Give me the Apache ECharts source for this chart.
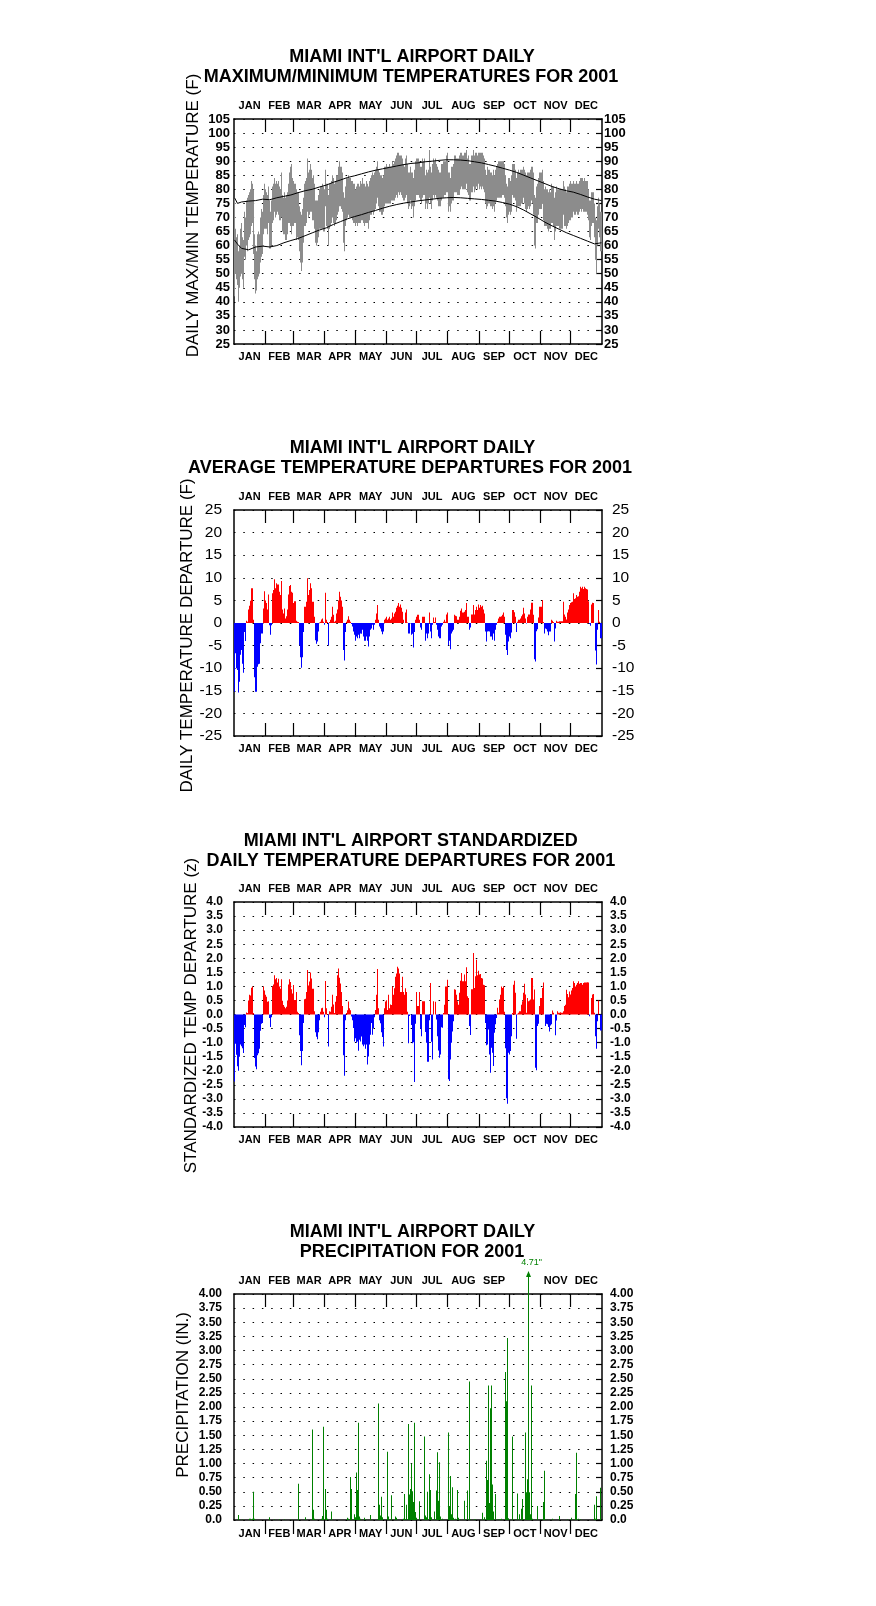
<!DOCTYPE html>
<html><head><meta charset="utf-8">
<script src="https://cdn.jsdelivr.net/npm/echarts@6/dist/echarts.min.js"></script>
<style>html,body{margin:0;padding:0;background:#fff}#c{width:876px;height:1606px}</style>
</head><body><div id="c"></div>
<script>
// ---------------- DATA ----------------
const monthNames = ['JAN','FEB','MAR','APR','MAY','JUN','JUL','AUG','SEP','OCT','NOV','DEC'];
const monthStarts = [31,59,90,120,151,181,212,243,273,304,334];
const monthMids = [15.5,45,74.5,105,135.5,166,196.5,227.5,258,288.5,319,349.5];

// Daily maximum temperature (F), Jan 1 .. Dec 31
const maxT = [
77,66,63,64,58,60,66,68,63,62,72,70,76,77,78,79,80,83,82,80,64,60,58,64,65,64,70,73,72,78,82,
80,79,78,81,76,72,76,81,82,84,82,83,82,83,81,80,86,78,77,79,77,78,79,82,86,88,89,84,
83,82,80,79,79,74,72,71,73,77,82,83,84,91,86,87,89,87,84,85,82,76,76,76,78,80,81,81,82,81,80,
87,82,82,78,82,82,83,85,84,82,83,85,85,88,90,88,88,86,79,77,81,84,84,85,84,84,83,83,82,82,
80,81,82,82,81,83,82,84,82,82,81,83,82,81,83,84,85,86,85,86,87,88,90,87,86,85,85,84,85,88,88,
89,88,88,89,88,88,90,89,90,91,92,93,93,92,92,92,91,89,88,91,92,89,86,86,88,86,86,84,87,90,
91,91,90,88,88,91,90,91,85,87,86,87,94,88,86,89,91,90,91,89,88,87,86,86,89,89,90,90,90,92,93,
86,86,84,88,88,89,92,92,91,91,91,92,93,93,92,92,93,93,94,91,92,89,89,92,92,94,92,93,93,92,93,
93,93,93,93,92,91,87,85,88,87,87,86,86,85,87,85,87,88,89,90,90,90,90,90,90,89,85,82,81,84,
84,83,85,89,89,89,87,84,86,87,86,87,87,87,88,87,86,85,86,86,86,87,88,88,86,78,77,81,82,84,86,
86,87,83,80,81,80,80,79,80,79,82,81,81,77,79,81,80,80,80,80,80,80,83,81,80,79,81,81,82,83,
82,82,83,82,82,83,82,82,83,84,84,84,83,84,83,83,83,80,76,76,79,79,79,75,70,69,74,77,75,72,72
];
// Daily minimum temperature (F)
const minT = [
42,50,48,46,40,45,49,50,48,45,56,55,60,58,62,63,64,67,68,57,48,43,44,48,49,50,54,56,57,64,66,
66,66,64,68,59,59,60,68,69,72,70,71,72,71,69,69,70,65,64,64,62,62,64,68,68,67,64,67,
67,68,62,63,62,58,54,51,54,61,67,67,68,72,70,71,72,72,69,69,66,61,60,61,63,66,66,66,66,65,65,
74,67,66,60,66,67,68,70,68,67,68,69,71,72,74,74,73,72,61,58,67,69,70,71,70,70,70,69,68,68,
67,68,67,68,68,68,69,69,68,67,68,68,68,66,69,71,71,72,71,72,73,75,77,74,72,72,71,71,72,74,75,
75,75,75,75,75,76,76,76,76,77,78,77,79,78,79,78,77,76,76,77,78,75,73,74,76,73,74,70,74,76,
78,78,77,76,75,77,78,78,73,75,73,75,77,75,73,76,78,77,78,77,76,74,74,74,76,77,77,78,78,79,79,
72,74,72,75,76,76,79,79,79,78,78,78,80,81,80,80,80,80,82,79,78,76,76,79,79,81,79,80,81,80,82,
80,81,80,81,80,79,75,73,74,75,75,74,74,73,74,72,75,76,77,77,77,77,77,78,78,77,74,70,68,71,
72,71,72,78,77,77,76,72,74,74,74,74,75,75,77,75,73,72,73,74,73,74,76,75,71,60,59,68,68,71,73,
73,75,69,67,67,67,66,65,66,66,68,68,67,62,65,67,67,67,66,66,66,66,71,67,67,66,67,68,69,69,
70,70,72,71,71,72,71,71,72,73,72,73,72,72,72,72,71,69,63,62,67,68,68,63,55,50,60,66,63,58,58
];
// Normal max / min temperature lines (read at these days of year)
const normDays = [0,3,7,14,21,28,35,42,49,56,63,70,77,84,91,98,105,112,119,126,133,140,147,154,161,168,175,182,189,196,203,210,217,224,231,238,245,252,259,266,273,280,287,294,301,308,315,322,329,336,343,350,357,364];
const normMax = [77,75,75.5,75.8,76,76.5,76.3,77,77.5,78,78.8,79.5,80,80.8,81.5,82.5,83.3,84.2,84.8,85.5,86.2,86.8,87.3,87.8,88.3,88.8,89.2,89.4,89.8,90,90.3,90.5,90.5,90.4,90.2,89.8,89.4,88.8,88.2,87.5,86.8,86,85,84,83,82,81,80.2,79.5,79,78.2,77.3,76.5,76];
const normMin = [62,60.5,59,58.5,59.5,59.8,59.5,60,61,61.8,62.5,63.5,64.5,65.5,66.3,67.5,68.5,69.5,70.3,71,71.8,72.5,73.3,74,74.6,75.1,75.5,75.9,76.2,76.5,76.8,77,77.1,77,76.8,76.6,76.4,76.1,75.8,75.3,74.7,73.8,72.6,71.2,69.8,68.3,67,65.8,64.6,63.6,62.6,61.6,60.6,61];

// Daily average temperature departure (F)
const depF = [
-15.2,-6.7,-10,-10.4,-15.4,-13,-7,-6,-9,-11,-2,-4,0.5,0.3,3,3.8,4.9,7.7,7.7,0.7,-12,-15.2,-15.2,-9.7,-9.1,-9,-4.5,-2.3,-2.3,3.2,7,
5,4.4,3,6.3,-0.5,-2.6,-0.5,6.6,7.3,9.7,7.7,8.8,8.5,8.5,6.9,6.2,9.3,3,2.1,3.2,1,1.5,3,6.3,8.2,8.4,6.9,6.7,
4.4,4.8,0.5,0.3,0.2,-4.9,-7.6,-9.9,-7.6,-2,3.6,3.6,4.7,9.9,6.2,7.3,8.8,7.7,4.7,4.7,1.4,-3.8,-4.6,-4.1,-1.9,0.1,0.3,0.8,1,0.3,-0.4,
6.7,0.7,0.2,-5,0.2,0.7,1.4,3.6,1.8,0.3,0.5,2.1,3,5,6.9,5.8,5,3.6,-6,-8.3,-2,0.3,0.7,1.5,0.7,0.3,-0.2,-0.8,-1.9,-2.6,
-3.9,-3,-3.4,-2.6,-3.4,-2.3,-2.4,-1.5,-3,-3.9,-3.9,-3,-3.9,-5.2,-3,-1.5,-1.2,-0.4,-1.5,-0.4,0.7,2.1,4,0.7,-0.8,-1.2,-1.9,-2.5,-1.9,0.7,1,
1.4,0.7,1,1.4,0.7,1,2.3,1.4,2.1,2.5,3.4,3.8,4.4,3.6,4.1,3.4,2.5,0.7,0,2.3,3,0.1,-2.3,-2.3,0,-2.6,-2.4,-5.4,-2,0.7,
1.4,1.8,0.7,-1,-1.5,1.4,1.4,1.4,-3.9,-2.3,-3.4,-2.3,2.3,-1.9,-3.4,-0.4,1.2,0.2,1.2,-0.4,-1.5,-3,-3.4,-3.4,-0.8,-0.4,0.3,0.7,0.3,1.9,2.3,
-4.9,-3.9,-5.8,-2.3,-1.9,-1.5,1.8,1.6,1.5,0.7,0.7,1.4,2.7,3.2,2.3,2.3,2.5,2.9,4.4,1.4,1.4,-1.5,-1,1.9,1.9,4,1.9,2.9,3.6,2.9,4.1,
3.4,4,3.6,3.8,3,2.1,-1.9,-4.1,-1.9,-1.8,-1.9,-3,-3,-3.7,-2.3,-3.9,-1.5,-0.4,0.3,1,1.4,1.4,1.5,1.8,2.3,1.4,-2.6,-6,-7.1,-4.1,
-3,-3.4,-2.1,2.9,2.9,2.4,1.4,-2,0.3,0.7,0.7,1,1.5,1.9,3.4,2.1,1,-0.1,1.4,1.9,1.9,3,4.5,4.5,1.8,-8,-8.5,-1.8,-1.4,1.2,3.6,
3.6,5.1,0.2,-2.3,-1.2,-1.4,-1.9,-2.7,-1.9,-1.9,0.7,0.5,0.2,-4.1,-1.2,0.5,0.3,0.3,0.4,0.4,0.4,0.4,4.7,1.9,1.4,0.8,2.3,3,4,4.4,
4.6,4.7,6.6,5.3,5.5,6.2,5.8,5.9,6.9,8,7.7,8,7.5,8,7.7,7.5,7.4,4.8,-0.2,-0.6,4.1,4.5,4.4,0,-6.1,-9.2,-1.5,2.9,0.3,-3.4,-3.4
];
// Standardized daily temperature departure (z)
const depZ = [
-2.38,-1.04,-1.43,-1.84,-2,-1.5,-1.07,-1.13,-1.2,-1.37,-0.37,-0.45,0.07,0.05,0.5,0.7,0.68,0.95,1,0.05,-1.55,-1.85,-1.95,-1.45,-1.38,-1.22,-0.58,-0.33,-0.3,1,0.85,
0.7,0.63,0.45,0.47,-0.12,-0.44,-0.1,1,1.07,1.4,1.25,1.3,1.14,1.27,1,0.92,1.25,0.49,0.34,0.28,0.22,0.28,0.5,1.07,1.25,1.16,0.9,0.75,
1.05,0.52,0.8,0.1,0.05,-0.74,-1.3,-1.8,-1.3,-0.3,0.54,0.56,0.8,1.58,1.03,1.17,1.49,1.28,0.92,0.92,0.12,-0.63,-0.79,-0.88,-0.63,-0.2,0.1,0.22,0.24,0.1,-0.1,
1.19,0.22,0.02,-1.14,0.12,0.1,0.28,0.7,0.36,0.05,0.45,0.66,1.4,1.64,1.31,1.1,0.8,0.3,-1.45,-2.18,-0.2,0.05,0.15,0.46,0.22,0.15,-0.07,-0.2,-0.48,-0.96,
-0.84,-1,-0.96,-1.29,-0.9,-0.96,-0.78,-1.07,-1.13,-1.07,-1.22,-1.07,-1.78,-1.49,-1.07,-0.72,-0.3,-0.72,-0.48,-0.1,0.16,0.7,1.62,0.22,-0.2,-0.31,-0.63,-0.8,-1.14,0.22,0.46,
0.51,0.16,0.7,0.22,0.36,0.34,1,0.7,0.93,1.34,1.46,1.7,1.64,1.46,0.8,0.8,1.34,0.8,0.7,0.93,0.8,0.1,-1.02,-0.05,0,-0.37,-1.02,-0.99,-2.4,-0.33,
0.8,0.3,0.8,-0.5,-0.77,0.47,0.47,0.47,-0.62,-1,-1.68,-1.68,-0.2,1.12,-0.97,-1.6,0.47,0,0.45,-0.18,-0.77,-1.28,-1.54,-1.42,-0.45,-0.47,0.05,0.35,1,1,1.24,
-2.3,-2.36,-1.6,-1,-0.6,-0.24,0.9,0.88,0.7,0.47,0.35,0.77,1.2,1.48,1.18,1.18,1.42,1.18,1.68,0.65,0.59,-0.41,-0.73,0.9,0.9,2.19,0.94,1.36,1.95,1.4,1.56,
1.42,1.44,1.3,1.28,1.06,1.04,-0.3,-1.09,-1.07,-0.53,-1.42,-2.07,-1.18,-1.36,-1.83,-0.65,-0.35,-0.12,0.24,0.06,0.53,0.7,1,0.94,1,0.1,-1.2,-2.98,-3.17,-1.36,
-1.42,-1.3,-0.77,0.05,1.06,1.2,0.77,-0.86,0.03,0.06,0.12,0.12,0.35,0.47,0.77,1.09,0.71,0.06,0.59,0.47,0.5,0.53,1.3,1.3,0.53,0.89,-1.89,-1.98,-0.41,-0.33,0.3,
0.59,0.94,1.14,0,-0.41,-0.33,-0.35,-0.44,-0.6,-0.39,-0.35,0.14,0.06,0,-0.74,-0.21,0.12,0.06,0.06,0.08,0.06,0.06,0.12,0.3,0.35,0.88,0.73,0.61,0.82,0.71,
0.85,0.94,1.18,1.12,1,1.06,1.12,1.18,1.09,1.12,1.12,1.06,1.12,1.14,1.14,1.14,1.15,1.14,-0.06,0,0.59,0.71,0.73,0.06,-0.77,-1.22,-0.24,0.5,0,-0.57,-0.57
];
// Daily precipitation (in.) — days of year with rain and amounts
const precipDays = [4,8,15,16,18,19,20,35,40,45,50,56,63,70,77,78,79,86,87,88,90,91,92,96,112,113,115,116,119,120,121,122,123,124,125,129,131,135,142,143,144,145,146,147,152,153,156,160,161,168,169,170,171,173,174,175,176,177,178,179,180,181,183,188,189,190,191,193,194,195,198,200,201,202,203,204,206,212,213,214,215,216,217,219,221,222,224,228,231,233,234,238,239,246,248,250,251,252,253,254,255,256,257,259,262,263,264,265,269,270,271,272,276,279,281,283,285,286,289,290,291,292,293,294,295,296,301,304,306,307,310,315,322,330,334,338,339,341,343,357,358,359,363];
const precipIn = [0.09,0.01,0.02,0.02,0.02,0.5,0.02,0.05,0.01,0.01,0.01,0.01,0.64,0.05,1.6,0.18,0.02,0.02,0.07,1.65,0.55,0.18,0.02,0.15,0.04,0.02,0.76,0.55,0.1,0.05,0.84,0.53,1.72,0.06,0.02,0.04,0.01,0.09,0.01,2.06,0.27,0.08,0.41,0.05,1.21,0.06,0.44,0.06,0.04,0.02,0.46,0.01,0.27,1.7,0.45,0.55,1.0,0.51,0.32,1.72,0.14,0.04,0.33,1.48,0.08,0.05,0.5,0.81,0.53,0.05,0.15,0.52,1.2,0.34,1.02,0.06,0.02,1.55,0.25,0.78,0.1,0.58,0.04,0.02,0.53,0.04,0.01,0.34,0.52,2.45,0.01,0.01,0.01,0.13,0.05,1.05,0.71,2.38,0.3,1.98,2.38,0.63,0.15,0.46,0.01,0.01,0.01,0.02,2.62,2.1,3.22,0.03,1.48,0.01,0.47,0.1,0.2,0.37,1.55,0.49,0.72,4.71,0.49,0.1,2.38,0.02,0.25,0.01,0.32,0.87,0.01,0.02,0.07,0.01,0.04,0.46,1.19,0.02,0.01,0.27,0.02,0.42,0.57];

// ---------------- CHART ----------------
const FONT = '"Liberation Sans", Arial, Helvetica, sans-serif';
const chart = echarts.init(document.getElementById('c'), null, {renderer: 'canvas'});

const grids = [
  {left: 234, top: 119, width: 368, height: 225},
  {left: 234, top: 510, width: 368, height: 226},
  {left: 234, top: 902, width: 368, height: 225},
  {left: 234, top: 1294, width: 368, height: 226}
];

function monthLabel(v, hideOct) {
  const i = monthMids.findIndex(m => Math.abs(m - v) < 0.01);
  const n = i >= 0 ? monthNames[i] : '';
  return (hideOct && n === 'OCT') ? '' : n;
}
function xAx(gi, pos, o) {
  return {
    type: 'value', gridIndex: gi, position: pos, min: 0, max: 365,
    axisLine: {show: true, onZero: false, lineStyle: {color: '#000', width: 1.5}},
    axisTick: {show: true, customValues: monthStarts, inside: !o.tickOut, length: o.tickOut ? 14 : 13,
               lineStyle: {color: '#000', width: 1.2}},
    axisLabel: {show: true, customValues: monthMids, margin: o.margin, fontSize: 11, fontWeight: 'bold',
                color: '#000', fontFamily: FONT, formatter: v => monthLabel(v, o.hideOct)},
    splitLine: {show: false}
  };
}
function yAx(gi, pos, c) {
  return {
    type: 'value', gridIndex: gi, position: pos, min: c.min, max: c.max, interval: c.interval,
    axisLine: {show: true, onZero: false, lineStyle: {color: '#000', width: 1.5}},
    axisTick: {show: pos === 'right', inside: true, length: 6, lineStyle: {color: '#000', width: 1.2}},
    axisLabel: {show: true, margin: pos === 'left' ? c.ml : c.mr, fontSize: c.fs, fontWeight: c.fw,
                color: '#000', fontFamily: FONT, formatter: c.fmt, showMinLabel: true, showMaxLabel: true},
    splitLine: {show: pos === 'left', lineStyle: {color: '#000', width: 1, type: [1.5, 7.8], dashOffset: 0}}
  };
}
const yCfg = [
  {min: 25, max: 105, interval: 5, fs: 13, fw: 'bold', ml: 4, mr: 2, fmt: v => String(v)},
  {min: -25, max: 25, interval: 5, fs: 15.5, fw: 'normal', ml: 12, mr: 10, fmt: v => String(v)},
  {min: -4, max: 4, interval: 0.5, fs: 12, fw: 'bold', ml: 11, mr: 8, fmt: v => v.toFixed(1)},
  {min: 0, max: 4, interval: 0.25, fs: 12, fw: 'bold', ml: 12, mr: 8, fmt: v => v === 0 ? '0.0' : v.toFixed(2)}
];

const xAxes = [], yAxes = [];
for (let g = 0; g < 4; g++) {
  const last = g === 3;
  xAxes.push(xAx(g, 'bottom', {margin: last ? 8 : 7, tickOut: last}));
  xAxes.push(xAx(g, 'top', {margin: 8, hideOct: last}));
  yAxes.push(yAx(g, 'left', yCfg[g]));
  yAxes.push(yAx(g, 'right', yCfg[g]));
}

function rectBetween(api, d, lo, hi, fill) {
  const a = api.coord([d, hi]);
  const b = api.coord([d + 1, lo]);
  const x0 = Math.round(a[0]);
  const w = Math.max(1, Math.round(b[0]) - x0);
  return {type: 'rect', shape: {x: x0, y: a[1], width: w, height: b[1] - a[1]}, style: {fill: fill}};
}

const bandData = maxT.map((v, i) => [i, minT[i], v]);
const depFData = depF.map((v, i) => [i, v]);
const depZData = depZ.map((v, i) => [i, v]);
const precipData = precipDays.map((d, i) => [d, precipIn[i]]);
const pMax = yCfg[3].max;

const series = [
  {
    type: 'custom', xAxisIndex: 0, yAxisIndex: 0, data: bandData, z: 2,
    renderItem: (p, api) => rectBetween(api, api.value(0), api.value(1), api.value(2), '#8c8c8c')
  },
  {
    type: 'line', xAxisIndex: 0, yAxisIndex: 0, z: 4, symbol: 'none', animation: false,
    data: normDays.map((d, k) => [d + 0.5, normMax[k]]), lineStyle: {color: '#000', width: 1}
  },
  {
    type: 'line', xAxisIndex: 0, yAxisIndex: 0, z: 4, symbol: 'none', animation: false,
    data: normDays.map((d, k) => [d + 0.5, normMin[k]]), lineStyle: {color: '#000', width: 1}
  },
  {
    type: 'custom', xAxisIndex: 2, yAxisIndex: 2, data: depFData, z: 2,
    renderItem: (p, api) => {
      const v = api.value(1);
      return rectBetween(api, api.value(0), Math.min(v, 0), Math.max(v, 0), v >= 0 ? '#ff0000' : '#0000ff');
    }
  },
  {
    type: 'custom', xAxisIndex: 4, yAxisIndex: 4, data: depZData, z: 2,
    renderItem: (p, api) => {
      const v = api.value(1);
      return rectBetween(api, api.value(0), Math.min(v, 0), Math.max(v, 0), v >= 0 ? '#ff0000' : '#0000ff');
    }
  },
  {
    type: 'custom', xAxisIndex: 6, yAxisIndex: 6, data: precipData, z: 2, clip: false,
    renderItem: (p, api) => {
      const d = api.value(0), v = api.value(1);
      if (v <= pMax) return rectBetween(api, d, 0, v, '#008000');
      const r = rectBetween(api, d, 0, pMax, '#008000');
      const top = api.coord([d, pMax])[1];
      const cx = r.shape.x + 0.5;
      return {type: 'group', children: [
        r,
        {type: 'line', shape: {x1: cx, y1: top, x2: cx, y2: top - 22}, style: {stroke: '#008000', lineWidth: 1}},
        {type: 'polygon', shape: {points: [[cx - 2.5, top - 17], [cx + 2.5, top - 17], [cx, top - 23]]}, style: {fill: '#008000'}},
        {type: 'text', x: cx + 3, y: top - 31, style: {text: v.toFixed(2) + '"', fill: '#008000',
          font: '9px ' + FONT, align: 'center', verticalAlign: 'middle'}}
      ]};
    }
  }
];

function title(x, y, t) {
  return {type: 'text', x: x, y: y, style: {text: t, fill: '#000', font: 'bold 18px ' + FONT,
          align: 'center', verticalAlign: 'middle'}};
}
function yName(x, y, t) {
  return {type: 'text', x: x, y: y, rotation: Math.PI / 2,
          style: {text: t, fill: '#000', font: '17px ' + FONT, align: 'center', verticalAlign: 'middle'}};
}

const graphics = [
  title(412, 57, "MIAMI INT'L AIRPORT DAILY"),
  title(411, 77, 'MAXIMUM/MINIMUM TEMPERATURES FOR 2001'),
  title(412.5, 448, "MIAMI INT'L AIRPORT DAILY"),
  title(410, 468, 'AVERAGE TEMPERATURE DEPARTURES FOR 2001'),
  title(410.7, 841, "MIAMI INT'L AIRPORT STANDARDIZED"),
  title(410.8, 861, 'DAILY TEMPERATURE DEPARTURES FOR 2001'),
  title(412.5, 1232, "MIAMI INT'L AIRPORT DAILY"),
  title(412, 1252, 'PRECIPITATION FOR 2001'),
  yName(193, 215.5, 'DAILY MAX/MIN TEMPERATURE (F)'),
  yName(187, 635.5, 'DAILY TEMPERATURE DEPARTURE (F)'),
  yName(191.7, 1015.5, 'STANDARDIZED TEMP DEPARTURE (z)'),
  yName(183.3, 1395, 'PRECIPITATION (IN.)')
];

chart.setOption({
  animation: false,
  backgroundColor: '#fff',
  grid: grids,
  xAxis: xAxes,
  yAxis: yAxes,
  series: series,
  graphic: graphics
});
</script>
</body></html>
